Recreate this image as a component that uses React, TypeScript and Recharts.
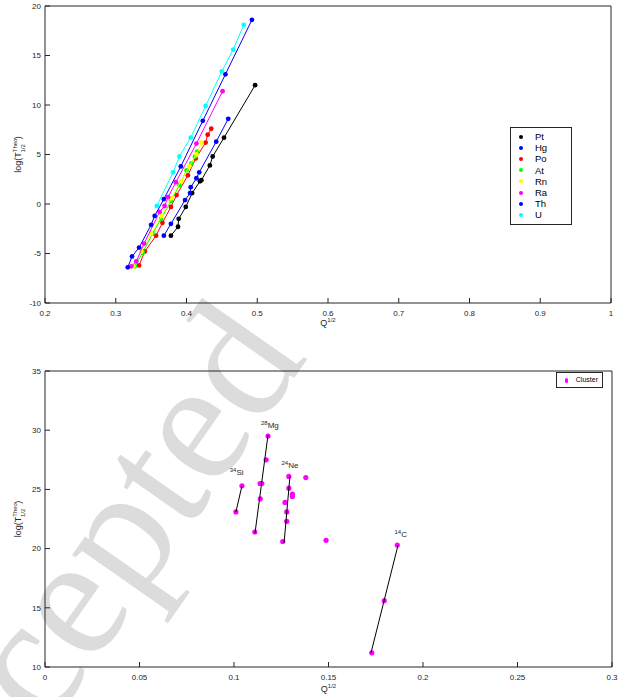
import React from "react";
import {
  Legend,
  Scatter,
  ScatterChart,
  XAxis,
  YAxis,
} from "recharts";

// top panel: log half-lives vs sqrt(Q) for each parent nucleus
const ptData = [
  [0.378, -3.2], [0.388, -2.3], [0.389, -1.5], [0.399, -0.3], [0.408, 1.1], [0.419, 2.3],
  [0.421, 2.4], [0.433, 3.9], [0.437, 4.8], [0.453, 6.7], [0.497, 12.0],
];
const hgData = [
  [0.368, -3.2], [0.378, -2.0], [0.398, 0.4], [0.405, 1.1], [0.406, 1.7], [0.414, 2.6],
  [0.418, 3.2], [0.442, 6.3], [0.459, 8.6],
];
const poData = [
  [0.333, -6.2], [0.341, -4.8], [0.357, -3.2], [0.366, -1.9], [0.378, -0.3], [0.386, 0.9],
  [0.402, 2.9], [0.413, 4.6], [0.427, 6.2], [0.43, 7.0], [0.435, 7.6],
];
const atData = [
  [0.327, -6.3], [0.338, -4.9], [0.352, -3.0], [0.364, -1.5], [0.378, 0.3], [0.39, 1.9],
  [0.4, 3.4], [0.407, 4.1], [0.412, 4.8], [0.415, 5.3],
];
const rnData = [
  [0.325, -6.3], [0.336, -4.8], [0.35, -3.0], [0.365, -1.2], [0.379, 0.6], [0.392, 2.3],
  [0.404, 3.8], [0.414, 5.0], [0.421, 6.2],
];
const raData = [
  [0.322, -6.3], [0.329, -5.8], [0.34, -4.0], [0.362, -0.8], [0.369, -0.2], [0.374, 0.7],
  [0.385, 2.2], [0.414, 6.1], [0.451, 11.4],
];
const thData = [
  [0.317, -6.4], [0.323, -5.3], [0.333, -4.4], [0.35, -2.1], [0.355, -1.2], [0.368, 0.5],
  [0.392, 3.8], [0.423, 8.4], [0.455, 13.1], [0.4925, 18.6],
];
const uData = [
  [0.358, -0.2], [0.381, 3.2], [0.39, 4.8], [0.406, 6.7], [0.427, 9.9], [0.45, 13.4],
  [0.466, 15.6], [0.481, 18.1],
];

const topSeries = [
  { name: "Pt", color: "#000000", data: ptData },
  { name: "Hg", color: "#0000ff", data: hgData },
  { name: "Po", color: "#ff0000", data: poData },
  { name: "At", color: "#00ff00", data: atData },
  { name: "Rn", color: "#ffff00", data: rnData },
  { name: "Ra", color: "#ff00ff", data: raData },
  { name: "Th", color: "#0000ff", data: thData },
  { name: "U", color: "#00ffff", data: uData },
];

const topXTicks = [0.2, 0.3, 0.4, 0.5, 0.6, 0.7, 0.8, 0.9, 1];
const topYTicks = [-10, -5, 0, 5, 10, 15, 20];

// bottom panel: cluster emission
const clusterData = [
  [0.1042, 25.3], [0.101, 23.1],
  [0.118, 29.5], [0.117, 27.5], [0.1147, 25.5], [0.1138, 25.5], [0.1139, 24.2], [0.111, 21.4],
  [0.129, 26.1], [0.129, 25.1], [0.1309, 24.6], [0.1309, 24.4], [0.127, 23.9], [0.1279, 23.1],
  [0.1279, 22.3], [0.1258, 20.6],
  [0.138, 26.0], [0.1487, 20.7],
  [0.1864, 20.3], [0.1795, 15.6], [0.1729, 11.2],
];
const siFit = [[0.101, 23.1], [0.1042, 25.3]];
const mgFit = [[0.1111, 21.3], [0.118, 29.6]];
const neFit = [[0.1265, 20.5], [0.1296, 26.1]];
const cFit = [[0.1725, 11.2], [0.1868, 20.3]];
const clusterLabels = [
  { q: 0.1014, v: 26.2, mass: "34", sym: "Si" },
  { q: 0.119, v: 30.2, mass: "28", sym: "Mg" },
  { q: 0.1296, v: 26.8, mass: "24", sym: "Ne" },
  { q: 0.1882, v: 21.0, mass: "14", sym: "C" },
];

const bottomXTicks = [0, 0.05, 0.1, 0.15, 0.2, 0.25, 0.3];
const bottomYTicks = [10, 15, 20, 25, 30, 35];

const toPts = (arr: number[][]) => arr.map(([q, v]) => ({ q, v }));

const FONT = "'Liberation Sans', Arial, sans-serif";
const tickStyle = { fontSize: 8, fill: "#262626", fontFamily: FONT };

const Dot = (r: number, color: string) => (p: any) =>
  <circle cx={p.cx} cy={p.cy} r={r} fill={color} />;

const NoDot = () => <g />;

const YLabel = (props: any) => {
  const { viewBox } = props;
  const cx = 21;
  const cy = viewBox.y + viewBox.height / 2;
  return (
    <text
      transform={`translate(${cx},${cy}) rotate(-90)`}
      textAnchor="middle"
      fontFamily={FONT}
      fontSize={9}
      fill="#262626"
    >
      <tspan>log(T</tspan>
      <tspan fontSize={6} dy={-4}>Theo</tspan>
      <tspan fontSize={6} dx={-14} dy={8}>1/2</tspan>
      <tspan dx={5} dy={-4}>)</tspan>
    </text>
  );
};

const XLabel = (dy: number) => (props: any) => {
  const { viewBox } = props;
  const x = viewBox.x + viewBox.width / 2;
  return (
    <text x={x} y={viewBox.y + dy} textAnchor="middle" fontFamily={FONT} fontSize={9} fill="#262626">
      <tspan>Q</tspan>
      <tspan fontSize={6} dy={-4}>1/2</tspan>
    </text>
  );
};

const LabelMark = (p: any) => (
  <text x={p.cx} y={p.cy} textAnchor="middle" fontFamily={FONT} fontSize={8} fill="#262626">
    <tspan fontSize={6} dy={-3}>{p.payload.mass}</tspan>
    <tspan dy={3}>{p.payload.sym}</tspan>
  </text>
);

const TopLegend = () => (
  <div
    style={{
      border: "1px solid #262626",
      background: "#fff",
      padding: "3px 6px 3px 8px",
      fontFamily: FONT,
      fontSize: 9.5,
      lineHeight: "11.2px",
      color: "#000",
      width: 46,
    }}
  >
    {topSeries.map((s) => (
      <div key={s.name} style={{ display: "flex", alignItems: "center" }}>
        <span style={{ display: "inline-block", width: 4, height: 4, borderRadius: 2, background: s.color, marginRight: 12 }} />
        {s.name}
      </div>
    ))}
  </div>
);

const BottomLegend = () => (
  <div
    style={{
      border: "1px solid #262626",
      background: "#fff",
      padding: "1px 4px 1px 8px",
      fontFamily: FONT,
      fontSize: 7,
      lineHeight: "12px",
      color: "#000",
      display: "flex",
      alignItems: "center",
      width: 33,
    }}
  >
    <span style={{ display: "inline-block", width: 5, height: 5, borderRadius: 3, background: "#ff00ff", marginRight: 8 }} />
    Cluster
  </div>
);

export default function App() {
  return (
    <div style={{ position: "absolute", left: 0, top: 0, width: 622, height: 697, background: "#fff", overflow: "hidden" }}>
      <div
        style={{
          position: "absolute",
          left: -190,
          top: 815,
          fontFamily: "'Liberation Serif', 'DejaVu Serif', serif",
          fontSize: 175,
          color: "#dcdcdc",
          transform: "rotate(-55deg)",
          transformOrigin: "0 0",
          whiteSpace: "nowrap",
          lineHeight: 1,
        }}
      >
        Accepted
      </div>
      <div style={{ position: "absolute", left: 0, top: 0 }}>
        <ScatterChart width={622} height={345} margin={{ top: 5, right: 10, bottom: 18, left: 0 }}>
          <XAxis
            type="number"
            dataKey="q"
            xAxisId="b"
            domain={[0.2, 1]}
            ticks={topXTicks}
            tickFormatter={(v) => String(v)}
            tickSize={-5}
            tickMargin={12}
            tick={tickStyle}
            stroke="#262626"
            height={24}
            allowDataOverflow
            label={XLabel(23)}
          />
          <XAxis type="number" xAxisId="t" orientation="top" domain={[0.2, 1]} ticks={topXTicks} tickSize={-5} tick={false} stroke="#262626" height={1} allowDataOverflow />
          <YAxis
            type="number"
            dataKey="v"
            yAxisId="l"
            domain={[-10, 20]}
            ticks={topYTicks}
            tickSize={-5}
            tickMargin={9}
            tick={tickStyle}
            stroke="#262626"
            width={45}
            allowDataOverflow
            label={YLabel}
          />
          <YAxis type="number" yAxisId="r" orientation="right" domain={[-10, 20]} ticks={topYTicks} tickSize={-5} tick={false} stroke="#262626" width={1} allowDataOverflow />
          {topSeries.map((s) => (
            <Scatter
              key={s.name}
              name={s.name}
              xAxisId="b"
              yAxisId="l"
              data={toPts(s.data)}
              fill={s.color}
              line={{ stroke: s.color, strokeWidth: 1 }}
              lineType="joint"
              shape={Dot(2.4, s.color)}
              isAnimationActive={false}
            />
          ))}
          <Scatter xAxisId="t" yAxisId="r" data={[]} legendType="none" isAnimationActive={false} />
          <Legend
            layout="vertical"
            align="center"
            verticalAlign="middle"
            content={TopLegend}
            wrapperStyle={{ position: "absolute", left: 510, top: 127, width: "auto" }}
          />
        </ScatterChart>
      </div>
      <div style={{ position: "absolute", left: 0, top: 345 }}>
        <ScatterChart width={622} height={352} margin={{ top: 25, right: 9, bottom: 6, left: 0 }}>
          <XAxis
            type="number"
            dataKey="q"
            xAxisId="b"
            domain={[0, 0.3]}
            ticks={bottomXTicks}
            tickFormatter={(v) => String(v)}
            tickSize={-5}
            tickMargin={12}
            tick={tickStyle}
            stroke="#262626"
            height={24}
            allowDataOverflow
            label={XLabel(25)}
          />
          <XAxis type="number" xAxisId="t" orientation="top" domain={[0, 0.3]} ticks={bottomXTicks} tickSize={-5} tick={false} stroke="#262626" height={1} allowDataOverflow />
          <YAxis
            type="number"
            dataKey="v"
            yAxisId="l"
            domain={[10, 35]}
            ticks={bottomYTicks}
            tickSize={-5}
            tickMargin={9}
            tick={tickStyle}
            stroke="#262626"
            width={45}
            allowDataOverflow
            label={YLabel}
          />
          <YAxis type="number" yAxisId="r" orientation="right" domain={[10, 35]} ticks={bottomYTicks} tickSize={-5} tick={false} stroke="#262626" width={1} allowDataOverflow />
          <Scatter
            name="Cluster"
            xAxisId="b"
            yAxisId="l"
            data={toPts(clusterData)}
            fill="#ff00ff"
            shape={Dot(2.6, "#ff00ff")}
            isAnimationActive={false}
          />
          {[siFit, mgFit, neFit, cFit].map((f, i) => (
            <Scatter
              key={i}
              xAxisId="b"
              yAxisId="l"
              data={toPts(f)}
              fill="#000"
              line={{ stroke: "#000", strokeWidth: 1 }}
              lineType="joint"
              shape={NoDot}
              legendType="none"
              isAnimationActive={false}
            />
          ))}
          <Scatter
            xAxisId="b"
            yAxisId="l"
            data={clusterLabels}
            dataKey="v"
            fill="#000"
            shape={LabelMark}
            legendType="none"
            isAnimationActive={false}
          />
          <Scatter xAxisId="t" yAxisId="r" data={[]} legendType="none" isAnimationActive={false} />
          <Legend
            layout="vertical"
            align="center"
            verticalAlign="middle"
            content={BottomLegend}
            wrapperStyle={{ position: "absolute", left: 556, top: 27, width: "auto" }}
          />
        </ScatterChart>
      </div>
    </div>
  );
}
